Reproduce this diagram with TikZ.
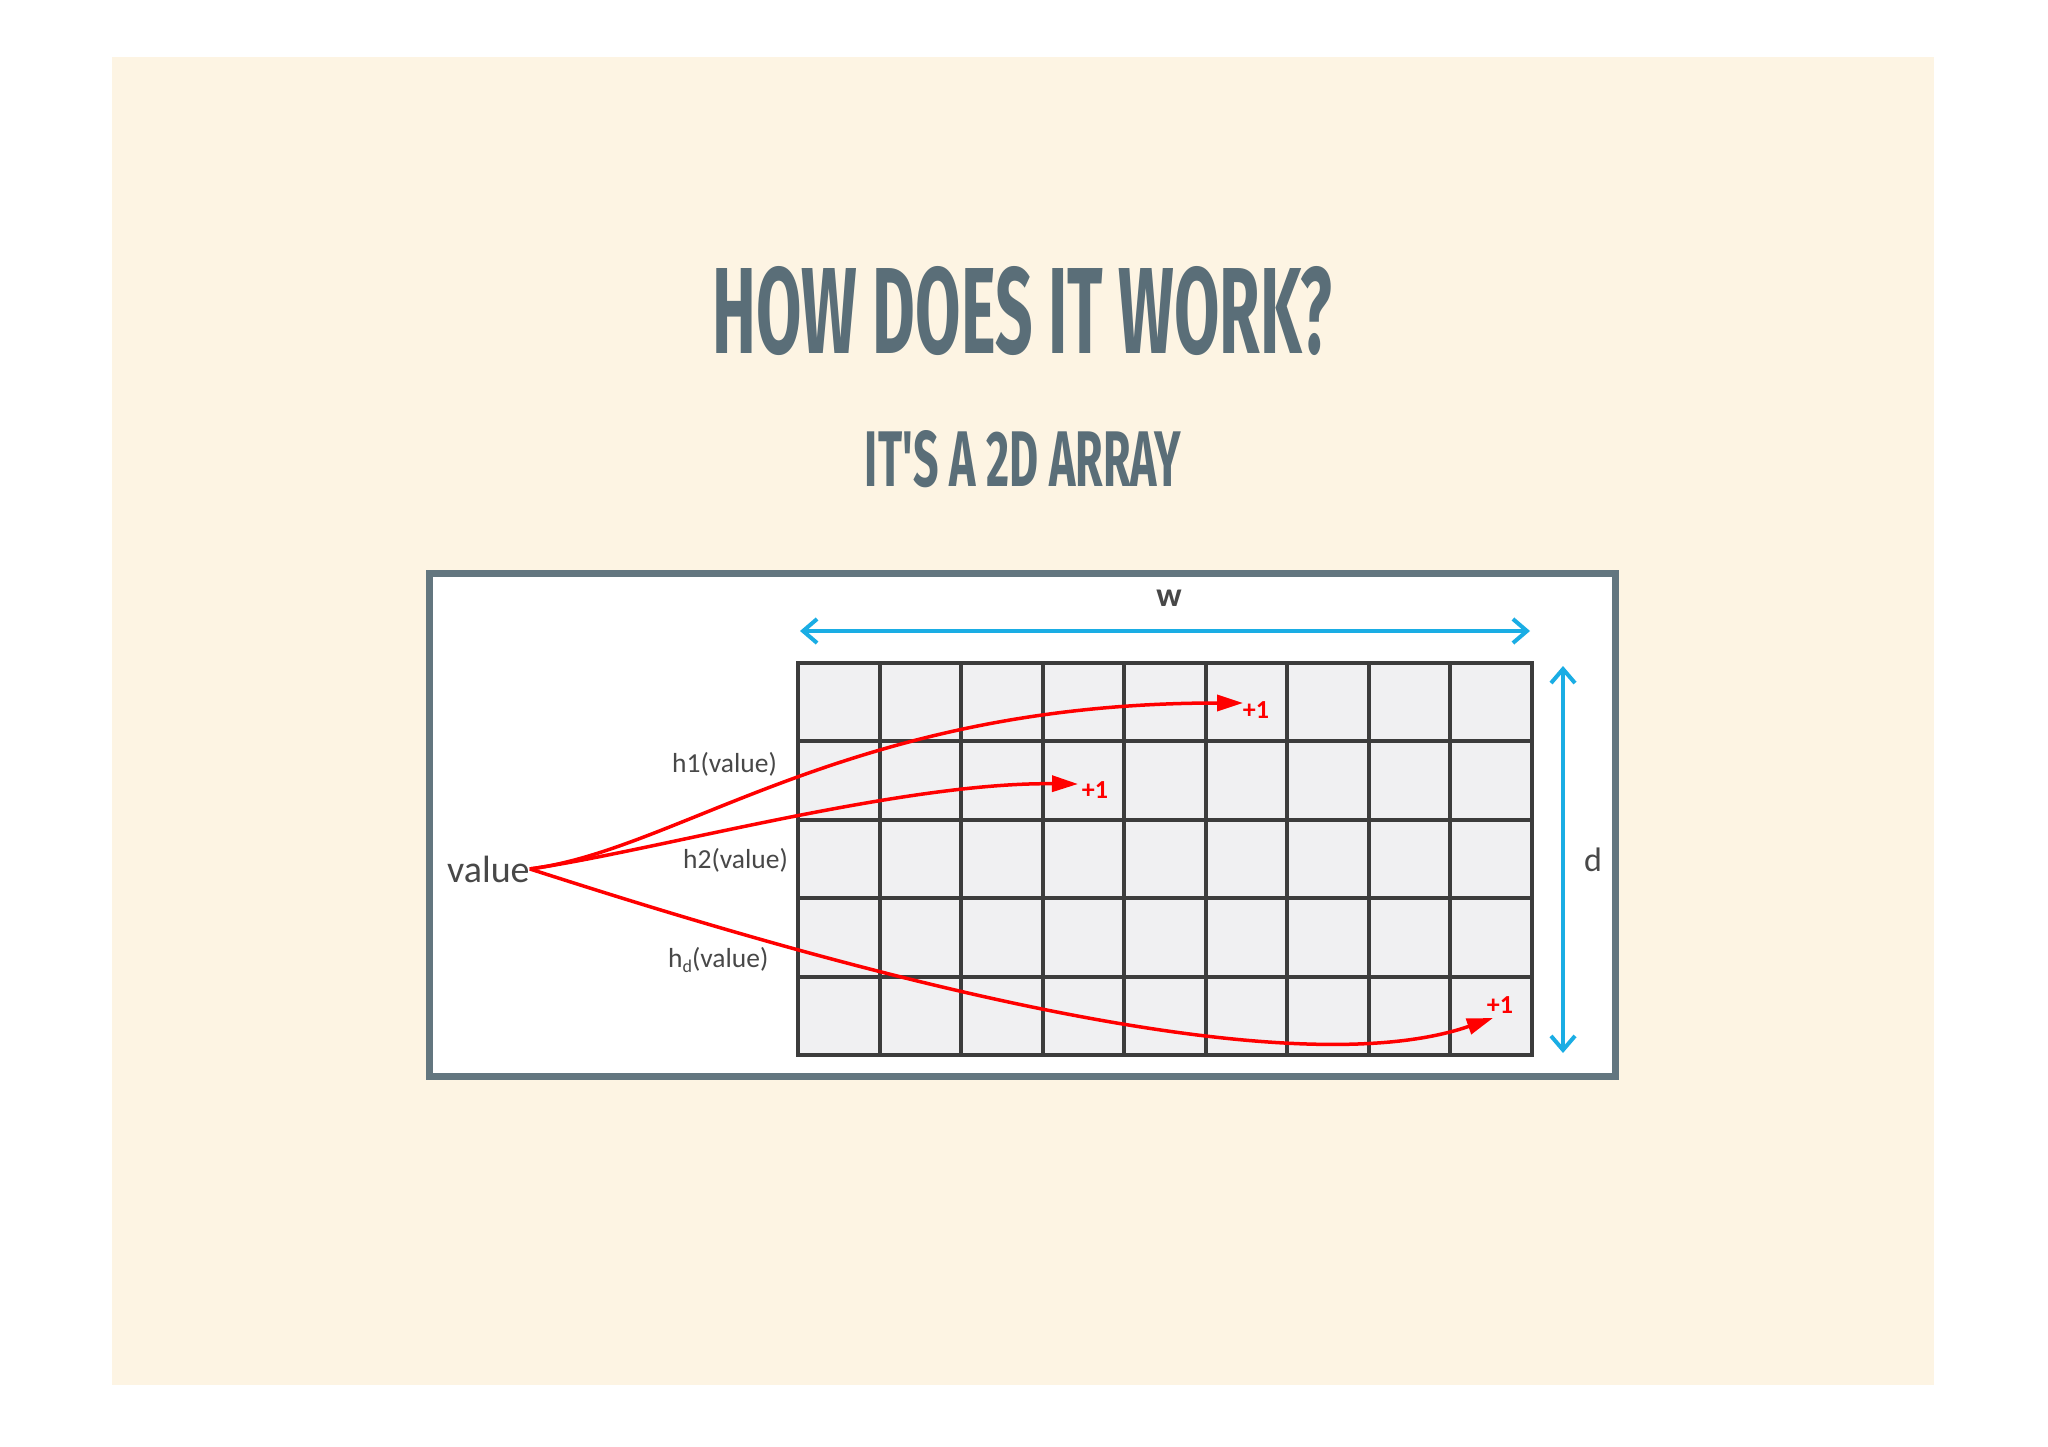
\documentclass[tikz,border=0pt]{standalone}
\usepackage{fontspec}
\usepackage{graphicx}
\usetikzlibrary{arrows.meta}
\setmainfont{Carlito}
\newfontfamily\headfont{Fira Sans}[Ligatures=TeXOff]
\definecolor{beige}{HTML}{FDF4E3}
\definecolor{slate}{HTML}{5A6E78}
\definecolor{boxgray}{HTML}{63767F}
\definecolor{cellgray}{HTML}{F0F0F2}
\definecolor{gridgray}{HTML}{3C3C3C}
\definecolor{skyblue}{HTML}{1AADE4}
\definecolor{labelgray}{HTML}{484848}

\begin{document}
\begin{tikzpicture}[x=1pt,y=-1pt,
    lbl/.style={text=labelgray,inner sep=0,font=\fontsize{27.5}{30}\selectfont},
    hit/.style={text=red,inner sep=0,font=\bfseries\fontsize{26}{28}\selectfont},
    hash/.style={red,line width=3.5pt,-{Triangle[length=26pt,width=16pt]}},
    dim/.style={skyblue,line width=4pt,{Straight Barb[length=14pt,width=24pt]}-{Straight Barb[length=14pt,width=24pt]}},
    gridline/.style={gridgray,line width=4pt}]
    \useasboundingbox (0,0) rectangle (2048,1447);
    \fill[white] (0,0) rectangle (2048,1447);
    \fill[beige] (112,57) rectangle (1934,1385);

    \node[text=slate,inner sep=0] (title) at (1022,311) {\resizebox{619pt}{87pt}{\headfont\bfseries HOW DOES IT WORK?}};
    \node[text=slate,inner sep=0] (sub) at (1023,459) {\resizebox{316pt}{56pt}{\headfont\bfseries IT'S A 2D ARRAY}};

    % the panel and its array
    \draw[boxgray,line width=7pt,fill=white] (429.5,573.5) rectangle (1615.5,1076.5);
    \draw[gridline,fill=cellgray] (798,663) rectangle (1532,1055);
    \foreach \i in {1,...,8}
        \draw[gridline] ({798+\i*81.56},663) -- ({798+\i*81.56},1055);
    \foreach \j in {1,...,4}
        \draw[gridline] (798,{663+\j*78.4}) -- (1532,{663+\j*78.4});

    % width and depth
    \coordinate (wl) at (800,631);
    \coordinate (wr) at (1530,631);
    \coordinate (dt) at (1563,666);
    \coordinate (db) at (1563,1053);
    \draw[dim] (wl) -- (wr);
    \draw[dim] (dt) -- (db);
    \node[text=labelgray,font=\bfseries\fontsize{34}{36}\selectfont] (w) at (1169,598) {w};
    \node[text=labelgray,font=\fontsize{34}{36}\selectfont] (d) at (1593,860) {d};

    % hashing the value
    \node[text=labelgray,anchor=base west,inner sep=0,font=\fontsize{38}{44}\selectfont] (val) at (447,882) {value};
    \node[lbl,anchor=base west] (h1) at (672,772) {h1(value)};
    \node[lbl,anchor=base west] (h2) at (683,868) {h2(value)};
    \node[lbl,anchor=base west] (hd) at (668,967) {h\raisebox{-5pt}{\fontsize{18}{20}\selectfont d}(value)};

    \coordinate (t1) at (1243,703);
    \coordinate (t2) at (1078,784);
    \coordinate (t3) at (1493,1018);
    \draw[hash] (val.east) .. controls (680,850) and (850,703) .. (t1);
    \draw[hash] (val.east) .. controls (650,852) and (900,782) .. (t2);
    \draw[hash] (val.east) .. controls (690,920) and (1250,1102) .. (t3);
    \node[hit] (p1) at (1256,710) {+1};
    \node[hit] (p2) at (1095,790) {+1};
    \node[hit] (p3) at (1500,1005) {+1};
\end{tikzpicture}
\end{document}
